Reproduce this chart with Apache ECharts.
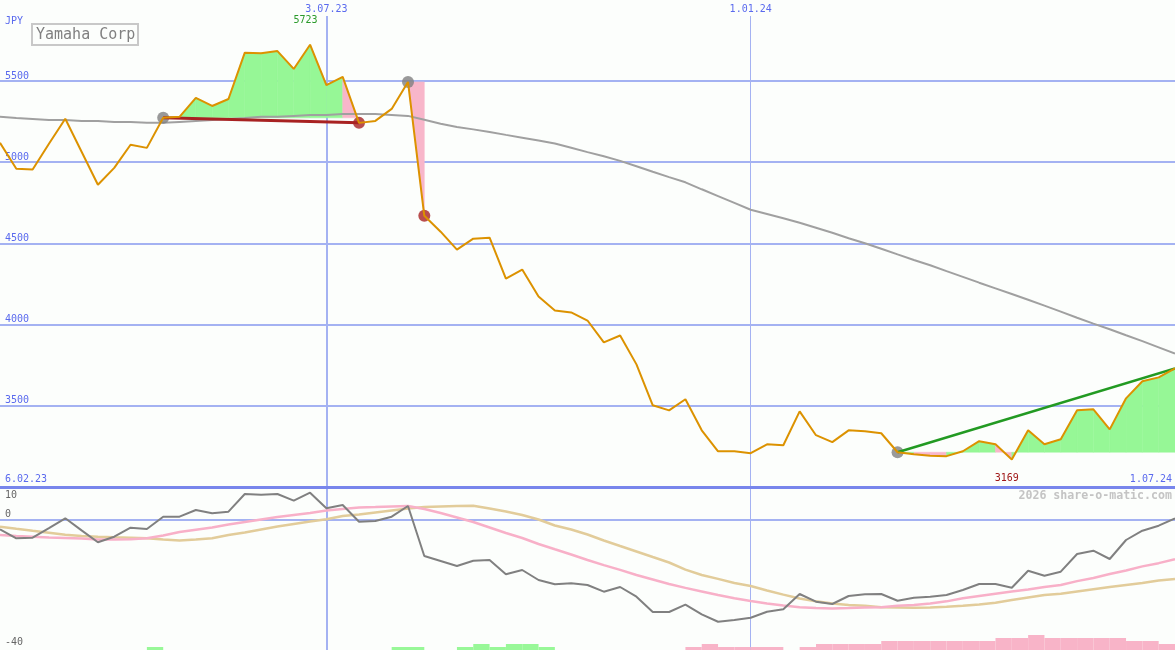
<!DOCTYPE html>
<html><head><meta charset="utf-8">
<script src="https://cdn.jsdelivr.net/npm/echarts@6/dist/echarts.min.js"></script>
<style>html,body{margin:0;padding:0;background:#fcfefc}#c{width:1175px;height:650px}</style>
</head><body><div id="c"></div>
<script>
// ---- data ----
const dates = ['13.02.23','20.02.23','27.02.23','6.03.23','13.03.23','20.03.23','27.03.23','3.04.23','10.04.23','17.04.23',
 '24.04.23','1.05.23','8.05.23','15.05.23','22.05.23','29.05.23','5.06.23','12.06.23','19.06.23','26.06.23',
 '3.07.23','10.07.23','17.07.23','24.07.23','31.07.23','7.08.23','14.08.23','21.08.23','28.08.23','4.09.23',
 '11.09.23','18.09.23','25.09.23','2.10.23','9.10.23','16.10.23','23.10.23','30.10.23','6.11.23','13.11.23',
 '20.11.23','27.11.23','4.12.23','11.12.23','18.12.23','25.12.23','1.01.24','8.01.24','15.01.24','22.01.24',
 '29.01.24','5.02.24','12.02.24','19.02.24','26.02.24','4.03.24','11.03.24','18.03.24','25.03.24','1.04.24',
 '8.04.24','15.04.24','22.04.24','29.04.24','6.05.24','13.05.24','20.05.24','27.05.24','3.06.24','10.06.24',
 '17.06.24','24.06.24','1.07.24'];
const price = [5119, 4959, 4955, 5113, 5267, 5064, 4861, 4965, 5107, 5088,
 5273, 5279, 5396, 5346, 5389, 5674, 5670, 5684, 5574, 5723,
 5475, 5525, 5242, 5254, 5328, 5494, 4670, 4572, 4462, 4529,
 4535, 4283, 4339, 4173, 4087, 4075, 4025, 3890, 3933, 3755,
 3503, 3472, 3540, 3349, 3220, 3220, 3208, 3263, 3257, 3466,
 3319, 3276, 3349, 3343, 3331, 3214, 3202, 3193, 3190, 3220,
 3282, 3263, 3169, 3349, 3263, 3294, 3472, 3478, 3355, 3546,
 3651, 3675, 3730];
const movingAvg = [5279, 5272, 5266, 5260, 5260, 5254, 5254, 5248, 5248, 5242,
 5242, 5248, 5254, 5260, 5266, 5272, 5279, 5279, 5285, 5291,
 5291, 5297, 5297, 5297, 5291, 5285, 5261, 5236, 5217, 5202,
 5186, 5168, 5151, 5134, 5115, 5089, 5062, 5036, 5008, 4975,
 4941, 4908, 4876, 4833, 4791, 4749, 4707, 4681, 4655, 4627,
 4596, 4565, 4532, 4501, 4467, 4432, 4398, 4365, 4329, 4294,
 4258, 4223, 4188, 4153, 4117, 4080, 4042, 4006, 3971, 3934,
 3898, 3860, 3821];
const osc = [-3.05, -5.86, -5.67, -2.7, 0.37, -3.4, -7.1, -5.36, -2.55, -2.96,
 0.87, 0.87, 2.96, 1.93, 2.43, 7.94, 7.73, 7.94, 5.86, 8.35,
 3.49, 4.52, -0.69, -0.47, 0.87, 4.21, -11.37, -12.93, -14.49, -12.83,
 -12.62, -17.07, -15.73, -18.85, -20.19, -19.88, -20.4, -22.49, -21.03, -24.05,
 -28.82, -28.82, -26.54, -29.53, -31.84, -31.31, -30.59, -28.72, -27.98, -23.21,
 -25.61, -26.32, -23.83, -23.3, -23.21, -25.3, -24.36, -24.05, -23.52, -21.96,
 -20.09, -20.09, -21.25, -15.95, -17.51, -16.26, -10.75, -9.72, -12.31, -6.39,
 -3.49, -1.93, 0.37];
const oscPink = [-4.83, -5.14, -5.36, -5.61, -5.76, -5.92, -6.23, -6.23, -6.17, -5.86,
 -4.98, -3.89, -3.18, -2.49, -1.56, -0.78, 0, 0.78, 1.4, 2.02,
 2.8, 3.27, 3.74, 3.89, 4.05, 4.21, 3.27, 2.02, 0.62, -0.78,
 -2.49, -4.21, -5.76, -7.63, -9.28, -10.9, -12.6, -14.2, -15.7, -17.3,
 -18.7, -20.1, -21.3, -22.4, -23.5, -24.5, -25.4, -26.2, -26.8, -27.3,
 -27.6, -27.7, -27.6, -27.4, -27.3, -26.9, -26.6, -26.2, -25.5, -24.5,
 -23.8, -23.1, -22.4, -21.8, -21.0, -20.4, -19.2, -18.2, -17.0, -15.9,
 -14.6, -13.6, -12.4];
const oscTan = [-2.24, -2.9, -3.52, -4.11, -4.77, -5.14, -5.39, -5.55, -5.67, -5.83,
 -6.23, -6.54, -6.23, -5.83, -4.83, -4.05, -3.12, -2.18, -1.4, -0.62,
 0.06, 1.09, 1.56, 2.18, 2.8, 3.43, 3.89, 4.05, 4.21, 4.3,
 3.43, 2.49, 1.4, 0, -1.87, -3.12, -4.67, -6.54, -8.26, -9.97,
 -11.7, -13.4, -15.6, -17.3, -18.5, -19.8, -20.7, -22.1, -23.4, -24.6,
 -25.5, -26.2, -26.6, -26.9, -27.3, -27.4, -27.5, -27.4, -27.2, -26.9,
 -26.5, -25.9, -25.1, -24.3, -23.5, -23.1, -22.4, -21.7, -21.0, -20.4,
 -19.8, -19.0, -18.5];
const hist = [0,0,0,0,0,0,0,0,0,1,
 0,0,0,0,0,0,0,0,0,0,
 0,0,0,0,1,1,0,0,1,2,
 1,2,2,1,0,0,0,0,0,0,
 0,0,-1,-2,-1,-1,-1,-1,0,-1,
 -2,-2,-2,-2,-3,-3,-3,-3,-3,-3,
 -3,-4,-4,-5,-4,-4,-4,-4,-4,-3,
 -3,-2];
const bottomTickIdx = [0, 72];
const bottomTickText = ['6.02.23', '1.07.24'];
const topTickIdx = [20, 46];
const topTickText = ['3.07.23', '1.01.24'];
const lowerTickText = ['10', '0', '-40'];
const grayDotIdx = [10, 25, 55];
const redDotIdx = [22, 26];
const redLineIdx = [10, 22];
const greenLineIdx = [55, 72];
const fillStart = [10, 25, 55];
const fillEnd = [22, 26, 72];
const pinkSeg = [21, 25, 56, 57, 61];

// ---- styles ----
const MONO = 'DejaVu Sans Mono';
const BLUE = '#5a6aee';
const GRID = '#a4b2f2';
const GREEN_FILL = '#96f796';
const PINK_FILL = '#f8b6ca';

const fillData = [];
fillStart.forEach((s, r) => {
  for (let i = s; i < fillEnd[r]; i++) {
    fillData.push([i, price[i], price[i + 1], price[s], pinkSeg.includes(i) ? 1 : 0]);
  }
});

const chart = echarts.init(document.getElementById('c'), null, {renderer: 'canvas'});
const option = {
  animation: false,
  backgroundColor: '#fcfefc',
  title: {
    text: 'Yamaha Corp', left: 32, top: 24,
    borderColor: '#c8c8c8', borderWidth: 2, padding: [2, 3, 1, 4],
    textStyle: {fontFamily: MONO, fontSize: 15, fontWeight: 'normal', color: '#808080', lineHeight: 18}
  },
  grid: [
    {left: 0, right: 0, top: 16, height: 471},
    {left: 0, right: 0, top: 487, height: 163},
    {left: 0, right: 0, top: 487, height: 163}
  ],
  xAxis: [
    {gridIndex: 0, type: 'category', data: dates, boundaryGap: false, position: 'bottom',
     axisLine: {show: true, lineStyle: {color: '#7886ec', width: 3}}, axisTick: {show: false},
     axisLabel: {inside: true, margin: 3, color: BLUE, fontFamily: MONO, fontSize: 10,
       interval: (i) => bottomTickIdx.includes(i),
       formatter: (v, i) => bottomTickText[bottomTickIdx.indexOf(i)] || '',
       alignMinLabel: 'left', alignMaxLabel: 'right', padding: [0, 3, 0, 5]},
     splitLine: {show: true, interval: (i) => i === topTickIdx[1], lineStyle: {color: GRID, width: 1}}},
    {gridIndex: 0, type: 'category', data: dates, boundaryGap: false, position: 'top',
     axisLine: {show: false}, axisTick: {show: false},
     axisLabel: {margin: 2, color: BLUE, fontFamily: MONO, fontSize: 10,
       interval: (i) => topTickIdx.includes(i),
       formatter: (v, i) => topTickText[topTickIdx.indexOf(i)] || ''},
     splitLine: {show: true, interval: (i) => i === topTickIdx[0], lineStyle: {color: GRID, width: 2}}},
    {gridIndex: 1, type: 'category', data: dates, boundaryGap: false, position: 'bottom',
     axisLine: {show: false}, axisTick: {show: false}, axisLabel: {show: false},
     splitLine: {show: true, interval: (i) => i === topTickIdx[0], lineStyle: {color: GRID, width: 2}}},
    {gridIndex: 1, type: 'category', data: dates, boundaryGap: false, position: 'top',
     axisLine: {show: false}, axisTick: {show: false}, axisLabel: {show: false},
     splitLine: {show: true, interval: (i) => i === topTickIdx[1], lineStyle: {color: GRID, width: 1}}},
    {gridIndex: 2, type: 'category', data: dates.slice(0, hist.length), boundaryGap: true,
     axisLine: {show: false}, axisTick: {show: false}, axisLabel: {show: false}, splitLine: {show: false}}
  ],
  yAxis: [
    {gridIndex: 0, type: 'value', min: 3000, max: 5900, interval: 500,
     axisLine: {show: false}, axisTick: {show: false},
     axisLabel: {inside: true, margin: 5, verticalAlign: 'bottom', color: BLUE, fontFamily: MONO, fontSize: 10,
       showMinLabel: false, showMaxLabel: false,
       formatter: (v) => (v % 500 === 0 && v > 3000) ? String(v) : ''},
     splitLine: {show: true, showMinLine: false, showMaxLine: false, lineStyle: {color: GRID, width: 2}}},
    {gridIndex: 1, type: 'value', min: -40.65, max: 10.12,
     axisLine: {show: false}, axisTick: {show: false}, axisLabel: {show: false}, splitLine: {show: false}},
    {gridIndex: 2, type: 'value', min: 0, max: 54.33,
     axisLine: {show: false}, axisTick: {show: false}, axisLabel: {show: false}, splitLine: {show: false}}
  ],
  graphic: [
    {type: 'text', x: 5, y: 21, z: 100, style: {text: 'JPY', font: '10px ' + MONO, fill: BLUE, verticalAlign: 'middle'}},
    {type: 'text', x: 5, y: 495, z: 100, style: {text: lowerTickText[0], font: '10px ' + MONO, fill: '#666666', verticalAlign: 'middle'}},
    {type: 'text', x: 5, y: 514, z: 100, style: {text: lowerTickText[1], font: '10px ' + MONO, fill: '#666666', verticalAlign: 'middle'}},
    {type: 'text', x: 5, y: 642, z: 100, style: {text: lowerTickText[2], font: '10px ' + MONO, fill: '#666666', verticalAlign: 'middle'}},
    {type: 'text', x: 1172, y: 495.5, z: 100, style: {text: '2026 share-o-matic.com', font: 'bold 11.6px ' + MONO, fill: '#c4c4c4', align: 'right', verticalAlign: 'middle'}}
  ],
  series: [
    {type: 'custom', xAxisIndex: 0, yAxisIndex: 0, z: 1, silent: true,
     dimensions: ['x', 'a', 'b', 'base', 'pink'], encode: {x: 0, y: [1, 2, 3]},
     data: fillData,
     renderItem: function (params, api) {
       const i = api.value(0);
       const p0 = api.coord([i, api.value(1)]), p1 = api.coord([i + 1, api.value(2)]);
       const b0 = api.coord([i, api.value(3)]), b1 = api.coord([i + 1, api.value(3)]);
       return {type: 'polygon', shape: {points: [b0, p0, p1, b1]},
         style: {fill: api.value(4) ? PINK_FILL : GREEN_FILL, stroke: api.value(4) ? PINK_FILL : GREEN_FILL, lineWidth: 0.5}};
     }},
    {type: 'line', xAxisIndex: 0, yAxisIndex: 0, z: 2, data: movingAvg, symbol: 'none', silent: true,
     lineStyle: {color: '#a0a0a0', width: 2}},
    {type: 'scatter', xAxisIndex: 0, yAxisIndex: 0, z: 3, silent: true, symbolSize: 12,
     itemStyle: {color: '#7f7f7f'}, data: grayDotIdx.map(i => [i, price[i]])},
    {type: 'scatter', xAxisIndex: 0, yAxisIndex: 0, z: 3, silent: true, symbolSize: 12,
     itemStyle: {color: '#a82222'}, data: redDotIdx.map(i => [i, price[i]])},
    {type: 'line', xAxisIndex: 0, yAxisIndex: 0, z: 4, silent: true, symbol: 'none',
     lineStyle: {color: '#a82222', width: 3}, data: redLineIdx.map(i => [i, price[i]])},
    {type: 'line', xAxisIndex: 0, yAxisIndex: 0, z: 4, silent: true, symbol: 'none',
     lineStyle: {color: '#229a22', width: 2.5}, data: greenLineIdx.map(i => [i, price[i]])},
    {type: 'line', xAxisIndex: 0, yAxisIndex: 0, z: 5, silent: true, data: price, symbol: 'none',
     lineStyle: {color: '#dc9200', width: 2},
     markPoint: {symbol: 'circle', symbolSize: 1, silent: true, itemStyle: {color: 'rgba(0,0,0,0)'},
       label: {show: true, position: 'inside', formatter: '{c}', fontFamily: MONO, fontSize: 10},
       data: [
         {type: 'max', label: {offset: [-4.5, -24], color: '#2a9a2a'}},
         {type: 'min', label: {offset: [-5, 18.5], color: '#a01818'}}
       ]}},
    {type: 'bar', xAxisIndex: 4, yAxisIndex: 2, z: 1, silent: true, barWidth: '100%', barCategoryGap: 0,
     data: hist.map(v => ({value: Math.abs(v), itemStyle: {color: v > 0 ? '#98f898' : '#f8b4c8'}}))},
    {type: 'line', xAxisIndex: 2, yAxisIndex: 1, z: 2, silent: true, data: oscTan, symbol: 'none',
     lineStyle: {color: '#e2cc9a', width: 2.5}},
    {type: 'line', xAxisIndex: 2, yAxisIndex: 1, z: 2, silent: true, data: oscPink, symbol: 'none',
     lineStyle: {color: '#f8b0c8', width: 2.5}},
    {type: 'line', xAxisIndex: 2, yAxisIndex: 1, z: 3, silent: true, data: osc, symbol: 'none',
     lineStyle: {color: '#808080', width: 2},
     markLine: {z: 1, silent: true, symbol: 'none', label: {show: false},
       lineStyle: {color: GRID, width: 2, type: 'solid'}, data: [{yAxis: 0}]}}
  ]
};
chart.setOption(option);
</script>
</body></html>
